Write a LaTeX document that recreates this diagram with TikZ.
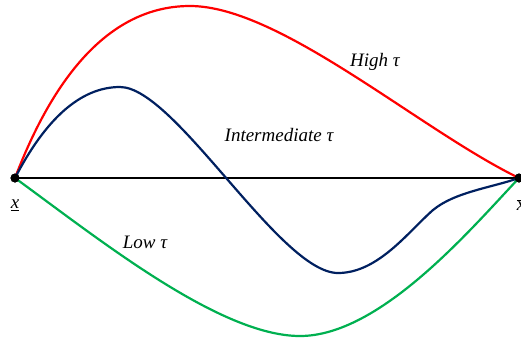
\documentclass[tikz,border=0pt]{standalone}
\usepackage{fontspec}
\setmainfont{Liberation Serif}
\usepackage{xcolor}
\usepackage{tikz}
\definecolor{hightau}{HTML}{FF0000}
\definecolor{midtau}{HTML}{002060}
\definecolor{lowtau}{HTML}{00B050}

\begin{document}
\begin{tikzpicture}[x=1pt,y=-1pt,
    every node/.style={font=\fontsize{19}{22}\selectfont\itshape},
    path/.style={line width=2.2pt}]
          \useasboundingbox (0,0) rectangle (521,341);
          % end points
          \node[circle,fill=black,inner sep=0pt,minimum size=9pt] (pl) at (15,178) {};
          \node[circle,fill=black,inner sep=0pt,minimum size=9pt] (pr) at (519,178) {};
          \node (xlow) at (15,205) {\underline{x}};
          \node (xhigh) at (521,205) {$\overline{\mbox{\itshape x}}$};
          \draw[line width=2.4pt] (pl.center) -- (pr.center);
          % paths for each tau
          \draw[path,hightau] (pl.center) .. controls (60,60) and (120,6) .. (190,6)
            .. controls (280,6) and (420,130) .. (pr.center);
          \draw[path,midtau] (pl.center) .. controls (45,120) and (80,87) .. (120,87)
            .. controls (175,87) and (280,273) .. (338,273)
            .. controls (378,273) and (408,232) .. (433,210)
            .. controls (455,192) and (490,188) .. (pr.center);
          \draw[path,lowtau] (pl.center) .. controls (100,240) and (220,336) .. (300,336)
            .. controls (380,336) and (470,230) .. (pr.center);
          \fill (pl) circle (4.5pt) (pr) circle (4.5pt);
          \node (lhigh) at (375,62) {High τ};
          \node (lmid) at (279,135) {Intermediate τ};
          \node (llow) at (145,242) {Low τ};
        \end{tikzpicture}
\end{document}
